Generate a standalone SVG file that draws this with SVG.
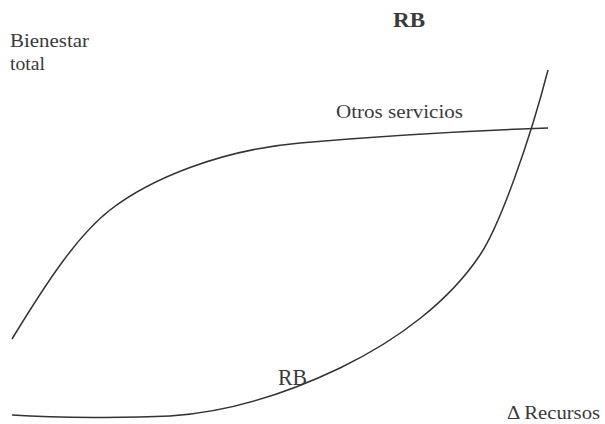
<svg xmlns="http://www.w3.org/2000/svg" width="605" height="424" viewBox="0 0 605 424">
<style>
.t{font-family:"Liberation Serif","Times New Roman",serif;fill:#3a3a3a}
.c{fill:none;stroke:#333;stroke-width:1.5}
</style>
<rect width="605" height="424" fill="#fff"/>
<g id="labels">
<text class="t" x="393" y="27" font-size="22" font-weight="bold" textLength="32" lengthAdjust="spacingAndGlyphs">RB</text>
<text class="t" x="10" y="47" font-size="18" textLength="79" lengthAdjust="spacingAndGlyphs">Bienestar</text>
<text class="t" x="10" y="70" font-size="18" textLength="35" lengthAdjust="spacingAndGlyphs">total</text>
<text class="t" x="336" y="118" font-size="19" textLength="127" lengthAdjust="spacingAndGlyphs">Otros servicios</text>
<text class="t" x="278" y="385" font-size="23" fill="#222" textLength="29" lengthAdjust="spacingAndGlyphs">RB</text>
<text class="t" x="507" y="419" font-size="18" textLength="93" lengthAdjust="spacingAndGlyphs">Δ Recursos</text>
</g>
<g id="connectors">
<path id="otros" class="c" d="M12,339 C48,280 78,235 110,210 C150,179 220,150 300,143 C380,136 460,131 548,128"/>
<path id="rb" class="c" d="M12,415 C60,418 130,418 170,416 C230,412 290,392 340,368 C400,339 450,300 480,255 C500,225 530,140 548,70"/>
</g>
</svg>
